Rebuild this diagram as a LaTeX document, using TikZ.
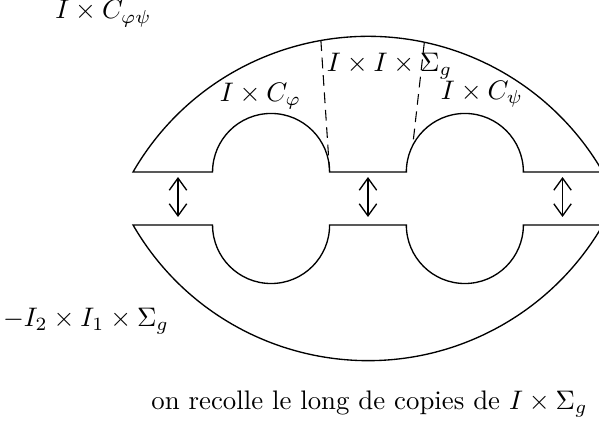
\documentclass[tikz,border=0pt]{standalone}
\usepackage{amssymb, amsmath}
\usetikzlibrary{arrows.meta}

\begin{document}
\begin{tikzpicture}[
	piece/.style={line width=.5pt},
	seam/.style={dash pattern=on 4pt off 2.5pt, line width=.4pt},
	glue/.style={{Straight Barb[length=4.5pt,width=6.5pt]}-{Straight Barb[length=4.5pt,width=6.5pt]}, line width=.5pt},
	lbl/.style={anchor=base, inner sep=0pt}
]
	\useasboundingbox (-4.823, -3.316) rectangle (3.028, 2.254);
	% upper piece
	\draw[piece] (-3.079, 0) arc[start angle=150, end angle=30, radius=3.555]
		-- (2.037, 0) arc[start angle=0, end angle=180, radius=.767]
		-- (-.503, 0) arc[start angle=0, end angle=180, radius=.767] -- cycle;
	% lower piece
	\draw[piece] (-3.079, -.695) arc[start angle=210, end angle=330, radius=3.555]
		-- (2.037, -.695) arc[start angle=360, end angle=180, radius=.767]
		-- (-.503, -.695) arc[start angle=360, end angle=180, radius=.767] -- cycle;

	% seams
	\coordinate (s1) at ([shift={(0,-1.775)}]100:3.555);
	\coordinate (s2) at (-.503, 0);
	\coordinate (s3) at ([shift={(0,-1.775)}]78:3.555);
	\coordinate (s4) at ([shift={(1.27,0)}]153:.767);
	\draw[seam] (s1) -- (s2);
	\draw[seam] (s3) -- (s4);

	\foreach \x/\n in {-2.49/1, 0/2, 2.55/3} {
		\coordinate (a\n) at (\x, -.066);
		\coordinate (b\n) at (\x, -.59);
		\draw[glue] (a\n) -- (b\n);
	}

	\node[lbl] (cphipsi) at (-3.467, 2.005) {$I \times C_{\varphi\psi}$};
	\node[lbl] (cphi) at (-1.409, .92) {$I \times C_{\varphi}$};
	\node[lbl] (iis) at (.282, 1.311) {$I \times I \times \Sigma_{g}$};
	\node[lbl] (cpsi) at (1.494, .944) {$I \times C_{\psi}$};
	\node[lbl] (mii) at (-3.696, -2.028) {$-I_{2} \times I_{1} \times \Sigma_{g}$};
	\node[lbl] (caption) at (.02, -3.119) {on recolle le long de copies de $I \times \Sigma_{g}$};
\end{tikzpicture}
\end{document}
